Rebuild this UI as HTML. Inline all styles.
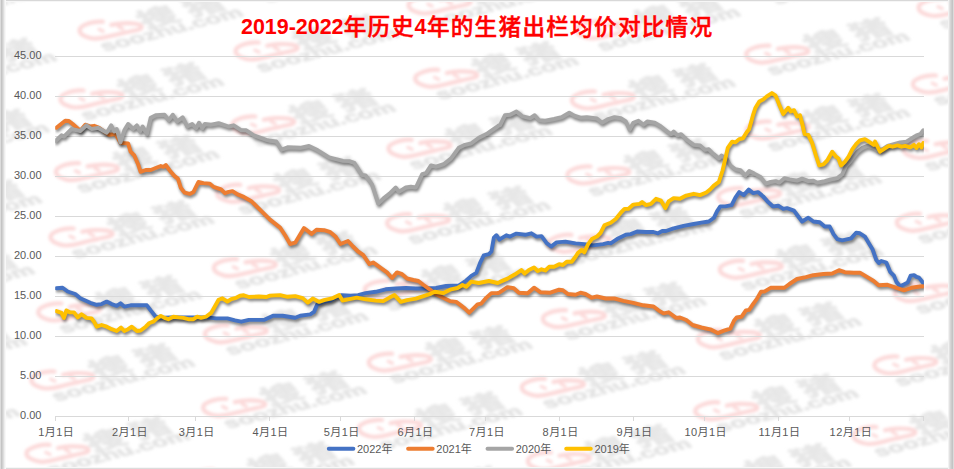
<!DOCTYPE html>
<html lang="zh-CN"><head><meta charset="utf-8"><title>2019-2022年历史4年的生猪出栏均价对比情况</title>
<style>
html,body{margin:0;padding:0;background:#fff;}
body{width:954px;height:469px;overflow:hidden;}
svg{display:block}
text{font-family:"Liberation Sans","Noto Sans CJK SC",sans-serif;}
.ax{font-size:11px;fill:#595959;}
.ttl{font-weight:bold;fill:#FF0000;}
.ttlc{font-weight:500;fill:#FF0000;stroke:#FF0000;stroke-width:0.5px;}
.wmt{font-family:"Liberation Sans","Noto Sans CJK SC",sans-serif;font-weight:bold;fill:#e7e7e7;stroke:#e7e7e7;stroke-width:0.9px;}
.wms{font-family:"Liberation Sans",sans-serif;font-weight:bold;fill:#e3e3e3;stroke:#e3e3e3;stroke-width:0.6px;}
</style></head><body>
<svg width="954" height="469" viewBox="0 0 954 469">
<defs>
<filter id="wb" x="-20%" y="-50%" width="140%" height="200%"><feGaussianBlur stdDeviation="1.7"/></filter>
<filter id="sh" x="-5%" y="-10%" width="110%" height="130%"><feGaussianBlur stdDeviation="1.4"/></filter>
<clipPath id="pc"><rect x="55.2" y="40" width="868.7" height="392"/></clipPath>
<g id="wm" filter="url(#wb)">
  <g fill="none" stroke="#fcd9d9" stroke-width="4.2" stroke-linecap="round" stroke-linejoin="round">
    <path d="M-8 -8.5 C-13 -9 -18 -8.2 -21.9 -6.9 C-27 -5.2 -31.2 -3 -31.2 0 C-31.2 2.6 -29 4.6 -26.1 5.9 C-23 7.4 -19.5 8.6 -15.5 8.5 C-10 8.4 -5 7.2 -0.5 5.9 C5 4.4 10 3.4 15.5 2.1 C22 0.5 31.5 -0.6 30.9 -3.2 C30.4 -5.4 27.5 -6 25 -6.4 C21 -7.1 16.5 -7.1 12.3 -6.9 C8 -6.7 4 -6 0.5 -5.3"/>
    <path d="M-11.8 -0.9 L-7.6 1.1 M7.7 -3.4 L11.9 -1.4" stroke-width="3.2"/>
  </g>
  <g transform="scale(1.9 1) rotate(-26)">
  <text class="wmt" text-anchor="middle" x="28 54.6" y="6.8" font-size="21">搜猪</text>
  <text class="wms" text-anchor="middle" x="28.9" y="17.9" font-size="14" textLength="82" lengthAdjust="spacingAndGlyphs">soozhu.com</text>
  </g>
</g>
</defs>
<rect width="954" height="469" fill="#fff"/>
<g id="watermarks">
<use href="#wm" x="-68.2" y="3.7"/>
<use href="#wm" x="-75.6" y="74.7"/>
<use href="#wm" x="-83.0" y="145.7"/>
<use href="#wm" x="-90.4" y="216.7"/>
<use href="#wm" x="-97.8" y="287.7"/>
<use href="#wm" x="-105.2" y="358.7"/>
<use href="#wm" x="-112.6" y="429.7"/>
<use href="#wm" x="-120.0" y="500.7"/>
<use href="#wm" x="110.8" y="30.2"/>
<use href="#wm" x="91.6" y="99.0"/>
<use href="#wm" x="87.1" y="171.7"/>
<use href="#wm" x="81.7" y="237.0"/>
<use href="#wm" x="69.4" y="312.0"/>
<use href="#wm" x="62.5" y="380.0"/>
<use href="#wm" x="57.6" y="453.3"/>
<use href="#wm" x="47.2" y="525.0"/>
<use href="#wm" x="273.6" y="-18.7"/>
<use href="#wm" x="266.7" y="51.0"/>
<use href="#wm" x="263.3" y="125.0"/>
<use href="#wm" x="248.3" y="193.3"/>
<use href="#wm" x="245.0" y="267.7"/>
<use href="#wm" x="236.0" y="333.8"/>
<use href="#wm" x="234.3" y="407.4"/>
<use href="#wm" x="221.8" y="478.3"/>
<use href="#wm" x="439.7" y="5.0"/>
<use href="#wm" x="446.3" y="78.3"/>
<use href="#wm" x="419.7" y="148.3"/>
<use href="#wm" x="418.2" y="222.8"/>
<use href="#wm" x="396.0" y="289.5"/>
<use href="#wm" x="400.0" y="362.2"/>
<use href="#wm" x="390.0" y="428.5"/>
<use href="#wm" x="389.0" y="502.6"/>
<use href="#wm" x="608.0" y="29.9"/>
<use href="#wm" x="603.0" y="100.0"/>
<use href="#wm" x="598.5" y="175.0"/>
<use href="#wm" x="579.5" y="243.3"/>
<use href="#wm" x="574.0" y="318.7"/>
<use href="#wm" x="553.0" y="387.3"/>
<use href="#wm" x="559.0" y="461.0"/>
<use href="#wm" x="556.2" y="526.9"/>
<use href="#wm" x="782.6" y="-16.8"/>
<use href="#wm" x="777.4" y="54.2"/>
<use href="#wm" x="777.7" y="130.0"/>
<use href="#wm" x="749.3" y="196.7"/>
<use href="#wm" x="751.0" y="269.3"/>
<use href="#wm" x="729.0" y="338.8"/>
<use href="#wm" x="726.4" y="410.8"/>
<use href="#wm" x="718.8" y="480.2"/>
<use href="#wm" x="949.8" y="7.5"/>
<use href="#wm" x="944.0" y="84.0"/>
<use href="#wm" x="935.0" y="149.5"/>
<use href="#wm" x="928.0" y="222.3"/>
<use href="#wm" x="926.0" y="292.7"/>
<use href="#wm" x="905.5" y="365.0"/>
<use href="#wm" x="884.5" y="435.5"/>
<use href="#wm" x="886.0" y="504.5"/>
</g>
<g stroke="#D9D9D9" stroke-width="1" fill="none" shape-rendering="crispEdges">
<line x1="55.2" y1="416.4" x2="923.5" y2="416.4"/>
<line x1="55.2" y1="376.4" x2="923.5" y2="376.4"/>
<line x1="55.2" y1="336.4" x2="923.5" y2="336.4"/>
<line x1="55.2" y1="296.4" x2="923.5" y2="296.4"/>
<line x1="55.2" y1="256.4" x2="923.5" y2="256.4"/>
<line x1="55.2" y1="216.4" x2="923.5" y2="216.4"/>
<line x1="55.2" y1="176.4" x2="923.5" y2="176.4"/>
<line x1="55.2" y1="136.4" x2="923.5" y2="136.4"/>
<line x1="55.2" y1="96.4" x2="923.5" y2="96.4"/>
<line x1="55.2" y1="56.4" x2="923.5" y2="56.4"/>
<line x1="55.2" y1="416.4" x2="55.2" y2="420.9"/>
<line x1="128.9" y1="416.4" x2="128.9" y2="420.9"/>
<line x1="195.6" y1="416.4" x2="195.6" y2="420.9"/>
<line x1="269.3" y1="416.4" x2="269.3" y2="420.9"/>
<line x1="340.7" y1="416.4" x2="340.7" y2="420.9"/>
<line x1="414.4" y1="416.4" x2="414.4" y2="420.9"/>
<line x1="485.8" y1="416.4" x2="485.8" y2="420.9"/>
<line x1="559.5" y1="416.4" x2="559.5" y2="420.9"/>
<line x1="633.3" y1="416.4" x2="633.3" y2="420.9"/>
<line x1="704.6" y1="416.4" x2="704.6" y2="420.9"/>
<line x1="778.4" y1="416.4" x2="778.4" y2="420.9"/>
<line x1="849.8" y1="416.4" x2="849.8" y2="420.9"/>
<line x1="923.5" y1="416.4" x2="923.5" y2="420.9"/>
</g>
<g clip-path="url(#pc)">
<path d="M56.4 288.2 L62.6 287.7 L67.7 291.5 L75.2 294.0 L80.3 298.3 L90.3 302.8 L96.6 304.8 L101.6 304.1 L106.7 301.6 L111.7 304.1 L116.7 305.8 L120.5 303.3 L124.3 306.6 L130.6 305.3 L146.9 305.3 L150.7 310.4 L155.7 316.7 L160.8 317.9 L170.8 317.4 L196.0 317.4 L206.0 317.4 L216.1 318.4 L227.4 318.4 L235.0 320.4 L241.3 321.7 L248.8 319.9 L263.9 319.9 L273.0 315.7 L282.6 315.7 L295.2 317.7 L300.2 315.7 L310.3 314.4 L314.0 311.9 L317.3 304.4 L322.8 301.9 L330.4 300.6 L336.7 296.8 L341.7 295.1 L350.5 295.6 L358.1 295.1 L365.6 293.1 L375.7 291.8 L385.7 289.3 L395.8 288.5 L405.8 288.0 L415.9 288.5 L426.0 288.5 L436.0 288.0 L446.1 286.0 L458.7 285.5 L466.2 280.5 L471.3 275.9 L476.3 272.9 L480.1 262.9 L483.8 255.3 L488.9 254.1 L491.4 251.5 L493.9 237.7 L496.4 235.2 L499.4 239.7 L500.0 239.1 L506.3 235.3 L510.1 236.6 L516.4 233.6 L525.2 234.8 L531.4 233.3 L536.5 236.6 L541.5 236.1 L546.5 242.9 L551.1 246.6 L556.6 242.4 L565.4 241.6 L575.5 243.4 L584.3 244.1 L593.1 245.4 L603.1 244.1 L608.2 242.9 L610.7 243.4 L617.0 239.1 L625.8 234.8 L630.8 234.1 L637.1 231.5 L645.9 232.0 L653.5 232.0 L658.0 233.3 L662.3 231.0 L666.0 231.0 L673.6 228.3 L683.6 225.8 L693.7 224.0 L701.3 222.7 L708.8 221.5 L713.3 218.2 L714.0 217.7 L717.0 211.4 L720.3 206.4 L725.3 206.4 L731.6 205.2 L735.4 197.6 L739.2 192.1 L743.7 195.1 L748.7 189.6 L753.0 193.1 L758.0 192.1 L763.1 196.4 L768.1 202.1 L773.1 206.4 L778.2 205.7 L783.2 208.9 L787.0 208.2 L794.0 210.7 L798.3 216.5 L802.1 221.5 L808.3 217.7 L813.4 221.5 L819.7 222.3 L824.7 226.5 L829.7 226.5 L833.5 234.1 L837.3 239.1 L842.3 240.4 L851.1 238.4 L856.1 232.8 L859.9 233.3 L864.9 236.6 L868.7 242.9 L872.5 249.2 L876.3 260.0 L878.8 263.0 L881.3 261.0 L886.3 262.5 L890.1 271.8 L893.9 275.6 L896.4 281.9 L900.2 286.2 L903.9 284.4 L907.7 282.6 L910.7 275.6 L914.0 275.1 L916.5 276.9 L919.0 277.6 L923.3 283.1" transform="translate(1.1 2.2)" fill="none" stroke="#000" stroke-opacity="0.5" stroke-width="3.9" stroke-linejoin="round" stroke-linecap="round" filter="url(#sh)"/>
<path d="M56.4 288.2 L62.6 287.7 L67.7 291.5 L75.2 294.0 L80.3 298.3 L90.3 302.8 L96.6 304.8 L101.6 304.1 L106.7 301.6 L111.7 304.1 L116.7 305.8 L120.5 303.3 L124.3 306.6 L130.6 305.3 L146.9 305.3 L150.7 310.4 L155.7 316.7 L160.8 317.9 L170.8 317.4 L196.0 317.4 L206.0 317.4 L216.1 318.4 L227.4 318.4 L235.0 320.4 L241.3 321.7 L248.8 319.9 L263.9 319.9 L273.0 315.7 L282.6 315.7 L295.2 317.7 L300.2 315.7 L310.3 314.4 L314.0 311.9 L317.3 304.4 L322.8 301.9 L330.4 300.6 L336.7 296.8 L341.7 295.1 L350.5 295.6 L358.1 295.1 L365.6 293.1 L375.7 291.8 L385.7 289.3 L395.8 288.5 L405.8 288.0 L415.9 288.5 L426.0 288.5 L436.0 288.0 L446.1 286.0 L458.7 285.5 L466.2 280.5 L471.3 275.9 L476.3 272.9 L480.1 262.9 L483.8 255.3 L488.9 254.1 L491.4 251.5 L493.9 237.7 L496.4 235.2 L499.4 239.7 L500.0 239.1 L506.3 235.3 L510.1 236.6 L516.4 233.6 L525.2 234.8 L531.4 233.3 L536.5 236.6 L541.5 236.1 L546.5 242.9 L551.1 246.6 L556.6 242.4 L565.4 241.6 L575.5 243.4 L584.3 244.1 L593.1 245.4 L603.1 244.1 L608.2 242.9 L610.7 243.4 L617.0 239.1 L625.8 234.8 L630.8 234.1 L637.1 231.5 L645.9 232.0 L653.5 232.0 L658.0 233.3 L662.3 231.0 L666.0 231.0 L673.6 228.3 L683.6 225.8 L693.7 224.0 L701.3 222.7 L708.8 221.5 L713.3 218.2 L714.0 217.7 L717.0 211.4 L720.3 206.4 L725.3 206.4 L731.6 205.2 L735.4 197.6 L739.2 192.1 L743.7 195.1 L748.7 189.6 L753.0 193.1 L758.0 192.1 L763.1 196.4 L768.1 202.1 L773.1 206.4 L778.2 205.7 L783.2 208.9 L787.0 208.2 L794.0 210.7 L798.3 216.5 L802.1 221.5 L808.3 217.7 L813.4 221.5 L819.7 222.3 L824.7 226.5 L829.7 226.5 L833.5 234.1 L837.3 239.1 L842.3 240.4 L851.1 238.4 L856.1 232.8 L859.9 233.3 L864.9 236.6 L868.7 242.9 L872.5 249.2 L876.3 260.0 L878.8 263.0 L881.3 261.0 L886.3 262.5 L890.1 271.8 L893.9 275.6 L896.4 281.9 L900.2 286.2 L903.9 284.4 L907.7 282.6 L910.7 275.6 L914.0 275.1 L916.5 276.9 L919.0 277.6 L923.3 283.1" fill="none" stroke="#4472C4" stroke-width="3.9" stroke-linejoin="round" stroke-linecap="round"/>
<path d="M56.4 127.8 L65.2 120.7 L68.9 121.0 L72.7 124.0 L80.3 130.8 L85.3 124.7 L90.3 126.5 L94.1 125.8 L99.1 127.8 L104.2 131.5 L109.2 134.8 L115.5 134.1 L120.5 142.9 L128.1 143.4 L130.6 151.7 L134.3 155.4 L138.1 164.2 L140.6 171.8 L145.7 170.0 L150.7 170.0 L155.7 168.0 L160.8 166.0 L163.3 166.8 L165.8 165.0 L170.8 171.8 L174.6 176.1 L177.9 178.6 L180.9 188.1 L184.7 192.7 L189.7 193.9 L193.5 191.9 L198.5 181.9 L203.5 183.1 L209.8 183.6 L213.6 186.9 L221.1 189.4 L224.9 193.2 L228.7 191.9 L232.5 191.2 L237.5 194.4 L243.8 196.9 L251.3 201.2 L270.0 219.6 L280.1 227.6 L285.1 235.2 L290.1 244.0 L295.2 242.7 L304.0 228.1 L311.5 233.9 L316.5 229.7 L324.1 230.2 L330.4 232.2 L335.4 236.4 L340.4 244.0 L348.0 241.0 L353.0 246.5 L358.1 251.5 L363.1 254.8 L369.4 264.1 L373.1 262.4 L380.7 267.9 L387.0 272.4 L392.0 278.0 L397.0 272.4 L402.1 274.2 L407.1 278.5 L413.4 280.0 L418.4 281.0 L423.5 285.0 L429.7 289.3 L436.0 294.3 L443.6 298.1 L449.9 301.1 L456.2 301.9 L461.2 305.6 L465.0 308.6 L469.2 312.7 L473.8 308.1 L477.5 304.4 L481.3 303.6 L486.4 297.6 L491.4 293.1 L497.7 293.1 L500.0 292.2 L507.5 287.2 L513.8 288.2 L518.9 292.7 L527.7 293.2 L534.0 287.7 L540.3 292.2 L550.3 292.7 L559.1 289.7 L562.9 290.2 L567.9 294.0 L575.5 294.7 L580.5 292.7 L585.5 294.0 L591.8 297.7 L596.9 296.5 L605.7 298.5 L614.5 298.5 L623.3 300.8 L633.3 302.8 L643.4 305.3 L653.5 306.5 L658.5 310.3 L663.5 313.3 L668.6 312.3 L676.1 317.9 L680.0 317.5 L686.3 320.0 L692.6 325.0 L701.4 327.5 L710.2 329.3 L717.7 333.1 L724.0 330.6 L730.3 328.6 L734.1 320.5 L736.6 317.5 L741.6 316.7 L745.9 310.4 L749.2 309.9 L753.0 304.2 L756.7 299.1 L761.0 291.6 L764.3 291.6 L770.6 287.8 L784.4 287.8 L789.4 284.0 L797.0 279.0 L805.8 277.2 L813.3 275.2 L823.4 274.0 L832.2 273.5 L839.0 270.2 L844.8 272.2 L853.6 272.7 L859.9 272.7 L867.4 277.2 L873.7 281.0 L878.7 285.3 L887.5 284.8 L895.1 287.3 L903.9 290.3 L911.4 287.8 L920.0 286.5 L923.3 286.3" transform="translate(1.1 2.2)" fill="none" stroke="#000" stroke-opacity="0.5" stroke-width="3.9" stroke-linejoin="round" stroke-linecap="round" filter="url(#sh)"/>
<path d="M56.4 127.8 L65.2 120.7 L68.9 121.0 L72.7 124.0 L80.3 130.8 L85.3 124.7 L90.3 126.5 L94.1 125.8 L99.1 127.8 L104.2 131.5 L109.2 134.8 L115.5 134.1 L120.5 142.9 L128.1 143.4 L130.6 151.7 L134.3 155.4 L138.1 164.2 L140.6 171.8 L145.7 170.0 L150.7 170.0 L155.7 168.0 L160.8 166.0 L163.3 166.8 L165.8 165.0 L170.8 171.8 L174.6 176.1 L177.9 178.6 L180.9 188.1 L184.7 192.7 L189.7 193.9 L193.5 191.9 L198.5 181.9 L203.5 183.1 L209.8 183.6 L213.6 186.9 L221.1 189.4 L224.9 193.2 L228.7 191.9 L232.5 191.2 L237.5 194.4 L243.8 196.9 L251.3 201.2 L270.0 219.6 L280.1 227.6 L285.1 235.2 L290.1 244.0 L295.2 242.7 L304.0 228.1 L311.5 233.9 L316.5 229.7 L324.1 230.2 L330.4 232.2 L335.4 236.4 L340.4 244.0 L348.0 241.0 L353.0 246.5 L358.1 251.5 L363.1 254.8 L369.4 264.1 L373.1 262.4 L380.7 267.9 L387.0 272.4 L392.0 278.0 L397.0 272.4 L402.1 274.2 L407.1 278.5 L413.4 280.0 L418.4 281.0 L423.5 285.0 L429.7 289.3 L436.0 294.3 L443.6 298.1 L449.9 301.1 L456.2 301.9 L461.2 305.6 L465.0 308.6 L469.2 312.7 L473.8 308.1 L477.5 304.4 L481.3 303.6 L486.4 297.6 L491.4 293.1 L497.7 293.1 L500.0 292.2 L507.5 287.2 L513.8 288.2 L518.9 292.7 L527.7 293.2 L534.0 287.7 L540.3 292.2 L550.3 292.7 L559.1 289.7 L562.9 290.2 L567.9 294.0 L575.5 294.7 L580.5 292.7 L585.5 294.0 L591.8 297.7 L596.9 296.5 L605.7 298.5 L614.5 298.5 L623.3 300.8 L633.3 302.8 L643.4 305.3 L653.5 306.5 L658.5 310.3 L663.5 313.3 L668.6 312.3 L676.1 317.9 L680.0 317.5 L686.3 320.0 L692.6 325.0 L701.4 327.5 L710.2 329.3 L717.7 333.1 L724.0 330.6 L730.3 328.6 L734.1 320.5 L736.6 317.5 L741.6 316.7 L745.9 310.4 L749.2 309.9 L753.0 304.2 L756.7 299.1 L761.0 291.6 L764.3 291.6 L770.6 287.8 L784.4 287.8 L789.4 284.0 L797.0 279.0 L805.8 277.2 L813.3 275.2 L823.4 274.0 L832.2 273.5 L839.0 270.2 L844.8 272.2 L853.6 272.7 L859.9 272.7 L867.4 277.2 L873.7 281.0 L878.7 285.3 L887.5 284.8 L895.1 287.3 L903.9 290.3 L911.4 287.8 L920.0 286.5 L923.3 286.3" fill="none" stroke="#ED7D31" stroke-width="3.9" stroke-linejoin="round" stroke-linecap="round"/>
<path d="M55.6 140.8 L61.4 135.3 L63.9 136.6 L71.4 129.0 L80.3 131.0 L86.5 125.3 L91.6 129.0 L97.9 127.8 L106.7 132.8 L111.2 125.3 L114.2 131.5 L116.7 129.0 L120.5 142.4 L124.3 130.3 L128.1 124.0 L133.1 129.0 L136.9 125.3 L140.1 131.5 L142.6 126.5 L146.9 134.1 L150.7 117.7 L155.7 115.2 L164.5 114.7 L168.8 120.2 L172.8 114.7 L177.1 121.5 L182.6 117.2 L187.2 126.5 L192.2 124.0 L196.0 128.3 L199.0 122.7 L202.3 128.3 L204.8 124.0 L211.1 124.7 L218.6 123.2 L228.7 126.5 L233.7 125.3 L241.3 130.3 L246.3 130.3 L253.8 135.3 L266.4 139.8 L270.2 140.8 L276.3 141.5 L281.3 149.8 L287.6 147.3 L300.2 147.8 L309.0 146.0 L317.8 150.3 L329.1 157.4 L343.0 160.9 L349.2 161.1 L354.3 162.9 L361.8 175.0 L365.6 175.5 L371.9 184.3 L378.2 203.6 L383.2 198.6 L389.5 193.6 L395.8 187.5 L398.8 191.8 L405.8 187.5 L410.9 186.8 L415.9 187.5 L422.2 174.2 L426.0 173.0 L431.0 165.4 L436.0 166.7 L443.6 164.2 L451.1 158.4 L458.7 147.8 L465.0 144.8 L471.3 143.3 L478.8 137.7 L486.4 134.0 L496.4 127.2 L498.9 125.2 L500.0 125.3 L505.0 115.2 L510.1 114.7 L516.4 111.4 L522.6 116.4 L530.2 118.2 L534.7 115.2 L539.0 120.2 L545.3 120.7 L554.1 119.0 L561.6 117.2 L569.2 112.7 L574.2 115.7 L580.5 117.7 L586.8 117.2 L596.9 118.5 L601.9 122.7 L608.2 119.0 L614.5 117.2 L620.8 118.2 L625.8 121.5 L629.6 129.8 L633.3 122.7 L638.4 120.7 L643.4 124.7 L647.2 121.5 L654.7 122.7 L661.0 126.5 L667.3 131.5 L671.1 134.1 L673.6 131.5 L677.4 135.3 L681.1 134.1 L687.4 140.3 L693.7 144.9 L700.0 145.4 L705.0 149.9 L708.8 149.2 L712.6 153.4 L714.0 154.2 L719.0 158.5 L721.5 155.5 L726.6 159.2 L730.4 165.5 L735.4 169.3 L740.4 170.1 L745.4 175.6 L749.2 171.1 L754.3 173.6 L760.5 176.9 L765.6 183.6 L770.6 181.9 L775.6 181.1 L779.4 182.6 L784.4 178.1 L789.5 179.4 L797.0 180.6 L802.1 178.6 L808.3 181.1 L813.4 180.6 L817.1 182.6 L824.7 181.1 L831.0 179.4 L837.3 178.1 L842.3 174.3 L846.1 165.5 L849.8 161.8 L853.6 156.7 L857.4 151.7 L862.4 147.9 L867.5 145.9 L872.5 147.4 L877.5 150.4 L882.6 149.2 L887.6 145.9 L893.9 144.2 L900.2 142.4 L906.5 141.6 L911.5 138.4 L916.5 135.3 L920.3 134.1 L923.3 130.3" transform="translate(1.1 2.2)" fill="none" stroke="#000" stroke-opacity="0.5" stroke-width="3.9" stroke-linejoin="round" stroke-linecap="round" filter="url(#sh)"/>
<path d="M55.6 140.8 L61.4 135.3 L63.9 136.6 L71.4 129.0 L80.3 131.0 L86.5 125.3 L91.6 129.0 L97.9 127.8 L106.7 132.8 L111.2 125.3 L114.2 131.5 L116.7 129.0 L120.5 142.4 L124.3 130.3 L128.1 124.0 L133.1 129.0 L136.9 125.3 L140.1 131.5 L142.6 126.5 L146.9 134.1 L150.7 117.7 L155.7 115.2 L164.5 114.7 L168.8 120.2 L172.8 114.7 L177.1 121.5 L182.6 117.2 L187.2 126.5 L192.2 124.0 L196.0 128.3 L199.0 122.7 L202.3 128.3 L204.8 124.0 L211.1 124.7 L218.6 123.2 L228.7 126.5 L233.7 125.3 L241.3 130.3 L246.3 130.3 L253.8 135.3 L266.4 139.8 L270.2 140.8 L276.3 141.5 L281.3 149.8 L287.6 147.3 L300.2 147.8 L309.0 146.0 L317.8 150.3 L329.1 157.4 L343.0 160.9 L349.2 161.1 L354.3 162.9 L361.8 175.0 L365.6 175.5 L371.9 184.3 L378.2 203.6 L383.2 198.6 L389.5 193.6 L395.8 187.5 L398.8 191.8 L405.8 187.5 L410.9 186.8 L415.9 187.5 L422.2 174.2 L426.0 173.0 L431.0 165.4 L436.0 166.7 L443.6 164.2 L451.1 158.4 L458.7 147.8 L465.0 144.8 L471.3 143.3 L478.8 137.7 L486.4 134.0 L496.4 127.2 L498.9 125.2 L500.0 125.3 L505.0 115.2 L510.1 114.7 L516.4 111.4 L522.6 116.4 L530.2 118.2 L534.7 115.2 L539.0 120.2 L545.3 120.7 L554.1 119.0 L561.6 117.2 L569.2 112.7 L574.2 115.7 L580.5 117.7 L586.8 117.2 L596.9 118.5 L601.9 122.7 L608.2 119.0 L614.5 117.2 L620.8 118.2 L625.8 121.5 L629.6 129.8 L633.3 122.7 L638.4 120.7 L643.4 124.7 L647.2 121.5 L654.7 122.7 L661.0 126.5 L667.3 131.5 L671.1 134.1 L673.6 131.5 L677.4 135.3 L681.1 134.1 L687.4 140.3 L693.7 144.9 L700.0 145.4 L705.0 149.9 L708.8 149.2 L712.6 153.4 L714.0 154.2 L719.0 158.5 L721.5 155.5 L726.6 159.2 L730.4 165.5 L735.4 169.3 L740.4 170.1 L745.4 175.6 L749.2 171.1 L754.3 173.6 L760.5 176.9 L765.6 183.6 L770.6 181.9 L775.6 181.1 L779.4 182.6 L784.4 178.1 L789.5 179.4 L797.0 180.6 L802.1 178.6 L808.3 181.1 L813.4 180.6 L817.1 182.6 L824.7 181.1 L831.0 179.4 L837.3 178.1 L842.3 174.3 L846.1 165.5 L849.8 161.8 L853.6 156.7 L857.4 151.7 L862.4 147.9 L867.5 145.9 L872.5 147.4 L877.5 150.4 L882.6 149.2 L887.6 145.9 L893.9 144.2 L900.2 142.4 L906.5 141.6 L911.5 138.4 L916.5 135.3 L920.3 134.1 L923.3 130.3" fill="none" stroke="#A5A5A5" stroke-width="3.9" stroke-linejoin="round" stroke-linecap="round"/>
<path d="M56.4 311.1 L61.4 312.9 L63.9 317.9 L66.4 310.4 L70.2 312.4 L74.0 312.4 L77.7 317.4 L81.5 314.2 L86.5 317.9 L91.6 318.4 L94.1 321.7 L96.6 326.7 L101.6 325.0 L106.7 326.7 L111.7 329.2 L116.7 331.0 L121.0 327.5 L124.3 331.0 L128.1 329.2 L131.8 326.7 L136.9 331.0 L140.6 330.5 L145.7 326.7 L149.4 323.0 L153.2 321.7 L157.0 318.4 L160.8 315.9 L164.5 317.9 L168.3 319.2 L173.3 316.7 L178.4 317.4 L183.4 317.9 L188.4 319.2 L193.5 319.2 L197.2 316.7 L201.0 317.9 L206.0 316.7 L211.1 312.9 L214.8 306.6 L218.6 299.8 L222.4 298.3 L227.4 301.6 L231.2 299.1 L236.2 297.8 L240.0 295.8 L243.8 295.3 L248.8 297.0 L258.9 296.5 L266.4 297.0 L270.0 295.6 L280.1 295.1 L287.6 296.8 L295.2 296.1 L302.7 298.1 L307.7 302.6 L312.8 298.6 L319.1 301.9 L324.1 300.1 L332.9 298.1 L339.2 295.1 L342.5 300.6 L348.0 299.3 L356.8 297.6 L365.6 299.3 L375.7 300.6 L383.2 301.1 L389.5 297.6 L394.5 295.1 L400.8 301.9 L407.1 300.1 L415.9 298.6 L423.5 296.1 L431.0 293.6 L434.8 291.8 L443.6 293.1 L451.1 289.3 L457.4 288.0 L462.5 285.0 L466.2 286.8 L471.3 281.7 L478.8 283.0 L488.9 281.0 L497.7 283.0 L500.0 281.9 L507.5 278.6 L515.1 274.3 L521.4 270.0 L524.7 273.6 L528.9 270.0 L534.0 267.5 L537.7 271.0 L541.5 269.3 L545.3 270.5 L549.1 266.8 L554.1 266.8 L559.1 264.2 L562.9 265.0 L566.7 261.7 L571.7 261.7 L575.5 256.7 L578.0 252.9 L581.8 249.9 L584.3 252.4 L588.1 244.1 L591.8 239.1 L596.9 236.6 L600.6 232.8 L604.4 225.3 L610.7 222.7 L615.7 219.0 L620.8 212.7 L624.5 208.9 L628.3 208.9 L633.3 204.6 L639.6 203.9 L642.1 202.1 L645.9 205.1 L650.9 203.9 L656.0 198.8 L661.0 200.6 L665.3 208.1 L668.6 201.4 L673.6 198.1 L679.9 198.8 L686.2 195.6 L693.7 193.8 L700.0 195.1 L706.3 192.5 L710.1 189.5 L713.8 185.6 L718.9 181.9 L722.6 170.5 L725.2 159.2 L727.8 147.9 L732.1 141.6 L735.4 142.4 L739.2 139.1 L742.9 138.4 L746.7 132.3 L749.2 129.1 L753.0 115.2 L755.5 107.7 L759.3 101.4 L763.1 99.6 L766.8 96.4 L771.9 93.1 L775.6 95.6 L778.9 103.9 L783.2 114.0 L788.2 107.7 L790.7 111.4 L794.0 110.2 L797.0 116.5 L800.0 115.2 L802.6 125.3 L804.6 134.1 L808.3 134.8 L812.1 142.9 L815.9 155.5 L819.2 165.5 L823.4 164.3 L827.2 160.5 L832.2 151.7 L836.0 156.7 L838.5 158.5 L841.0 165.5 L844.8 161.8 L848.6 156.7 L852.4 149.2 L856.1 144.2 L859.9 140.4 L864.9 139.1 L870.0 142.4 L873.7 144.9 L875.0 141.6 L880.0 151.7 L883.8 149.2 L888.8 145.9 L892.6 146.7 L897.6 145.4 L901.4 146.7 L905.2 145.9 L910.2 147.4 L914.0 144.9 L916.5 147.9 L919.0 144.2 L921.5 147.4 L923.3 142.9" transform="translate(1.1 2.2)" fill="none" stroke="#000" stroke-opacity="0.5" stroke-width="3.9" stroke-linejoin="round" stroke-linecap="round" filter="url(#sh)"/>
<path d="M56.4 311.1 L61.4 312.9 L63.9 317.9 L66.4 310.4 L70.2 312.4 L74.0 312.4 L77.7 317.4 L81.5 314.2 L86.5 317.9 L91.6 318.4 L94.1 321.7 L96.6 326.7 L101.6 325.0 L106.7 326.7 L111.7 329.2 L116.7 331.0 L121.0 327.5 L124.3 331.0 L128.1 329.2 L131.8 326.7 L136.9 331.0 L140.6 330.5 L145.7 326.7 L149.4 323.0 L153.2 321.7 L157.0 318.4 L160.8 315.9 L164.5 317.9 L168.3 319.2 L173.3 316.7 L178.4 317.4 L183.4 317.9 L188.4 319.2 L193.5 319.2 L197.2 316.7 L201.0 317.9 L206.0 316.7 L211.1 312.9 L214.8 306.6 L218.6 299.8 L222.4 298.3 L227.4 301.6 L231.2 299.1 L236.2 297.8 L240.0 295.8 L243.8 295.3 L248.8 297.0 L258.9 296.5 L266.4 297.0 L270.0 295.6 L280.1 295.1 L287.6 296.8 L295.2 296.1 L302.7 298.1 L307.7 302.6 L312.8 298.6 L319.1 301.9 L324.1 300.1 L332.9 298.1 L339.2 295.1 L342.5 300.6 L348.0 299.3 L356.8 297.6 L365.6 299.3 L375.7 300.6 L383.2 301.1 L389.5 297.6 L394.5 295.1 L400.8 301.9 L407.1 300.1 L415.9 298.6 L423.5 296.1 L431.0 293.6 L434.8 291.8 L443.6 293.1 L451.1 289.3 L457.4 288.0 L462.5 285.0 L466.2 286.8 L471.3 281.7 L478.8 283.0 L488.9 281.0 L497.7 283.0 L500.0 281.9 L507.5 278.6 L515.1 274.3 L521.4 270.0 L524.7 273.6 L528.9 270.0 L534.0 267.5 L537.7 271.0 L541.5 269.3 L545.3 270.5 L549.1 266.8 L554.1 266.8 L559.1 264.2 L562.9 265.0 L566.7 261.7 L571.7 261.7 L575.5 256.7 L578.0 252.9 L581.8 249.9 L584.3 252.4 L588.1 244.1 L591.8 239.1 L596.9 236.6 L600.6 232.8 L604.4 225.3 L610.7 222.7 L615.7 219.0 L620.8 212.7 L624.5 208.9 L628.3 208.9 L633.3 204.6 L639.6 203.9 L642.1 202.1 L645.9 205.1 L650.9 203.9 L656.0 198.8 L661.0 200.6 L665.3 208.1 L668.6 201.4 L673.6 198.1 L679.9 198.8 L686.2 195.6 L693.7 193.8 L700.0 195.1 L706.3 192.5 L710.1 189.5 L713.8 185.6 L718.9 181.9 L722.6 170.5 L725.2 159.2 L727.8 147.9 L732.1 141.6 L735.4 142.4 L739.2 139.1 L742.9 138.4 L746.7 132.3 L749.2 129.1 L753.0 115.2 L755.5 107.7 L759.3 101.4 L763.1 99.6 L766.8 96.4 L771.9 93.1 L775.6 95.6 L778.9 103.9 L783.2 114.0 L788.2 107.7 L790.7 111.4 L794.0 110.2 L797.0 116.5 L800.0 115.2 L802.6 125.3 L804.6 134.1 L808.3 134.8 L812.1 142.9 L815.9 155.5 L819.2 165.5 L823.4 164.3 L827.2 160.5 L832.2 151.7 L836.0 156.7 L838.5 158.5 L841.0 165.5 L844.8 161.8 L848.6 156.7 L852.4 149.2 L856.1 144.2 L859.9 140.4 L864.9 139.1 L870.0 142.4 L873.7 144.9 L875.0 141.6 L880.0 151.7 L883.8 149.2 L888.8 145.9 L892.6 146.7 L897.6 145.4 L901.4 146.7 L905.2 145.9 L910.2 147.4 L914.0 144.9 L916.5 147.9 L919.0 144.2 L921.5 147.4 L923.3 142.9" fill="none" stroke="#FFC000" stroke-width="3.9" stroke-linejoin="round" stroke-linecap="round"/>
</g>
<text class="ax" x="41.5" y="419.2" text-anchor="end">0.00</text>
<text class="ax" x="41.5" y="379.2" text-anchor="end">5.00</text>
<text class="ax" x="41.5" y="339.2" text-anchor="end">10.00</text>
<text class="ax" x="41.5" y="299.2" text-anchor="end">15.00</text>
<text class="ax" x="41.5" y="259.2" text-anchor="end">20.00</text>
<text class="ax" x="41.5" y="219.2" text-anchor="end">25.00</text>
<text class="ax" x="41.5" y="179.2" text-anchor="end">30.00</text>
<text class="ax" x="41.5" y="139.2" text-anchor="end">35.00</text>
<text class="ax" x="41.5" y="99.2" text-anchor="end">40.00</text>
<text class="ax" x="41.5" y="59.2" text-anchor="end">45.00</text>
<text class="ax" x="56.3" y="436.4" text-anchor="middle" letter-spacing="0.45">1月1日</text>
<text class="ax" x="130.0" y="436.4" text-anchor="middle" letter-spacing="0.45">2月1日</text>
<text class="ax" x="196.7" y="436.4" text-anchor="middle" letter-spacing="0.45">3月1日</text>
<text class="ax" x="270.4" y="436.4" text-anchor="middle" letter-spacing="0.45">4月1日</text>
<text class="ax" x="341.8" y="436.4" text-anchor="middle" letter-spacing="0.45">5月1日</text>
<text class="ax" x="415.5" y="436.4" text-anchor="middle" letter-spacing="0.45">6月1日</text>
<text class="ax" x="486.9" y="436.4" text-anchor="middle" letter-spacing="0.45">7月1日</text>
<text class="ax" x="560.6" y="436.4" text-anchor="middle" letter-spacing="0.45">8月1日</text>
<text class="ax" x="634.4" y="436.4" text-anchor="middle" letter-spacing="0.45">9月1日</text>
<text class="ax" x="705.7" y="436.4" text-anchor="middle" letter-spacing="0.45">10月1日</text>
<text class="ax" x="779.5" y="436.4" text-anchor="middle" letter-spacing="0.45">11月1日</text>
<text class="ax" x="850.9" y="436.4" text-anchor="middle" letter-spacing="0.45">12月1日</text>
<text class="ttl" x="241" y="34" font-size="22" textLength="102.5" lengthAdjust="spacingAndGlyphs">2019-2022</text>
<text class="ttlc" x="343.8 367.4 391.0" y="34.6" font-size="22.6">年历史</text>
<text class="ttl" x="414.6" y="34" font-size="22" textLength="12" lengthAdjust="spacingAndGlyphs">4</text>
<text class="ttlc" x="426.9 450.8 474.6 498.5 522.4 546.2 570.1 594.0 617.9 641.7 665.6 689.5" y="34.6" font-size="22.6">年的生猪出栏均价对比情况</text>
<line x1="328.8" y1="448.7" x2="353.4" y2="448.7" stroke="#4472C4" stroke-width="3.9" stroke-linecap="round"/>
<text class="ax" x="357.0" y="453">2022年</text>
<line x1="408.1" y1="448.7" x2="432.7" y2="448.7" stroke="#ED7D31" stroke-width="3.9" stroke-linecap="round"/>
<text class="ax" x="436.3" y="453">2021年</text>
<line x1="487.5" y1="448.7" x2="512.1" y2="448.7" stroke="#A5A5A5" stroke-width="3.9" stroke-linecap="round"/>
<text class="ax" x="515.7" y="453">2020年</text>
<line x1="566.2" y1="448.7" x2="590.8" y2="448.7" stroke="#FFC000" stroke-width="3.9" stroke-linecap="round"/>
<text class="ax" x="594.4" y="453">2019年</text>
<g shape-rendering="crispEdges">
<rect x="0" y="0" width="954" height="1" fill="#d8d8d8"/>
<rect x="0" y="1" width="954" height="1" fill="#f6f6f6"/>
<rect x="0" y="467" width="954" height="1" fill="#f6f6f6"/>
<rect x="0" y="468" width="954" height="1" fill="#dcdcdc"/>
<rect x="0" y="0" width="1" height="469" fill="#dcdcdc"/>
<rect x="1" y="0" width="1" height="469" fill="#c4c4c4"/>
<rect x="2" y="0" width="1" height="469" fill="#d0d0d0"/>
<rect x="3" y="0" width="1" height="469" fill="#dedede"/>
<rect x="4" y="0" width="1" height="469" fill="#eeeeee"/>
<rect x="5" y="0" width="1" height="469" fill="#f8f8f8"/>
<rect x="948" y="0" width="1" height="469" fill="#f2f2f2"/>
<rect x="949" y="0" width="1" height="469" fill="#e2e2e2"/>
<rect x="950" y="0" width="1" height="469" fill="#d6d6d6"/>
<rect x="951" y="0" width="1" height="469" fill="#cccccc"/>
<rect x="952" y="0" width="1" height="469" fill="#c4c4c4"/>
<rect x="953" y="0" width="1" height="469" fill="#dcdcdc"/>
</g>
</svg>
</body></html>
